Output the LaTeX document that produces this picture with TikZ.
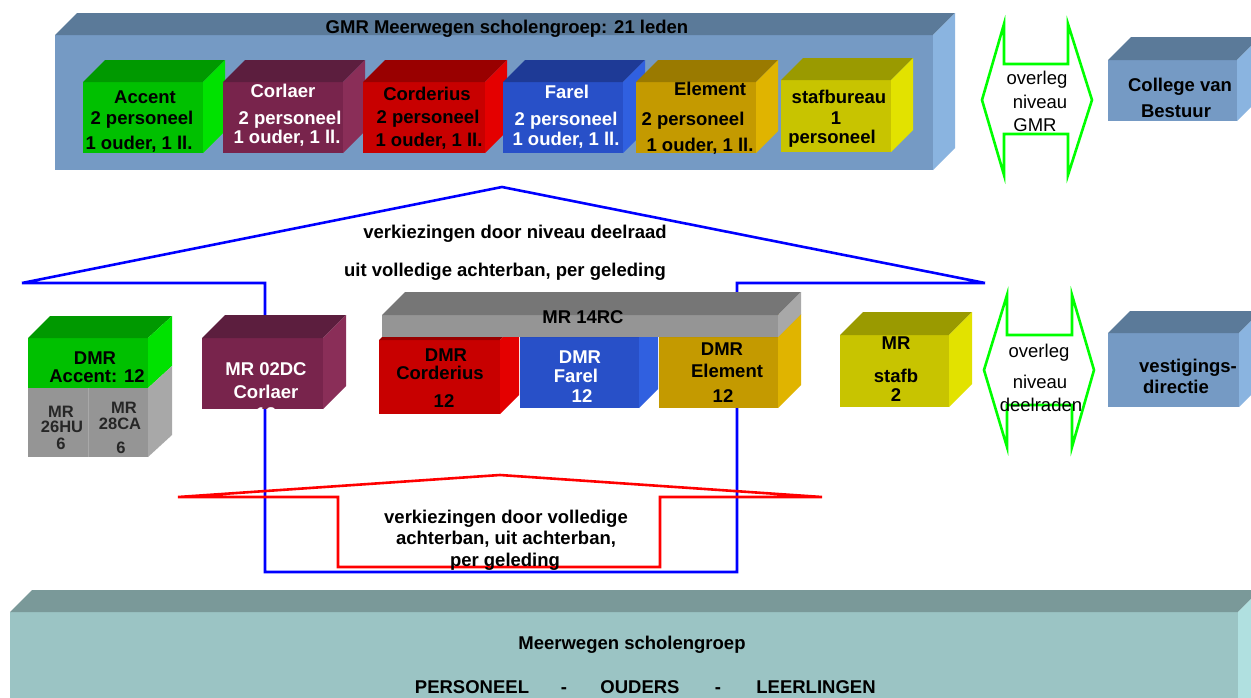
\documentclass[tikz,border=0pt]{standalone}
\usepackage{fontspec}
\setmainfont{Liberation Sans}
\definecolor{gmrF}{RGB}{117,154,196}
\definecolor{gmrT}{RGB}{91,122,153}
\definecolor{gmrS}{RGB}{138,180,224}
\definecolor{grnF}{RGB}{0,192,0}
\definecolor{grnT}{RGB}{0,153,0}
\definecolor{grnS}{RGB}{0,226,0}
\definecolor{marF}{RGB}{120,36,76}
\definecolor{marT}{RGB}{92,30,62}
\definecolor{marS}{RGB}{138,46,88}
\definecolor{redF}{RGB}{200,0,0}
\definecolor{redT}{RGB}{153,0,0}
\definecolor{redS}{RGB}{228,0,0}
\definecolor{bluF}{RGB}{40,80,200}
\definecolor{bluT}{RGB}{30,58,150}
\definecolor{bluS}{RGB}{48,96,224}
\definecolor{golF}{RGB}{196,154,0}
\definecolor{golT}{RGB}{154,122,0}
\definecolor{golS}{RGB}{224,180,0}
\definecolor{yelF}{RGB}{200,196,0}
\definecolor{yelT}{RGB}{154,154,0}
\definecolor{yelS}{RGB}{226,226,0}
\definecolor{gryF}{RGB}{149,149,149}
\definecolor{gryT}{RGB}{118,118,118}
\definecolor{gryS}{RGB}{168,168,168}
\definecolor{botF}{RGB}{155,196,196}
\definecolor{botT}{RGB}{122,153,153}
\definecolor{botS}{RGB}{176,224,224}
\definecolor{arBlue}{RGB}{0,0,255}
\definecolor{arRed}{RGB}{255,0,0}
\definecolor{arGreen}{RGB}{0,255,0}
\newcommand\cuboidbox[8]{%
 \fill[#6] (#1,#2) rectangle (#3,#4);
 \fill[#7] (#1,#2) -- (#1+#5,#2-#5) -- (#3+#5,#2-#5) -- (#3,#2) -- cycle;
 \fill[#8] (#3,#2) -- (#3+#5,#2-#5) -- (#3+#5,#4-#5) -- (#3,#4) -- cycle;}
\tikzset{
 bt/.style={font=\bfseries\fontsize{18.5}{20}\selectfont, inner sep=0pt, anchor=base},
 st/.style={font=\bfseries\fontsize{16.5}{18}\selectfont, inner sep=0pt, anchor=base, text=black!85},
 nt/.style={font=\fontsize{18.5}{20}\selectfont, inner sep=0pt, anchor=base},
 wt/.style={text=white},
 elect/.style={line width=2.6pt, line join=miter},
 talk/.style={draw=arGreen, line width=2.6pt, line join=miter}
}
\newcommand\lb[5]{\node[#4] (#1) at (#2,#3+6.6) {#5};}
\begin{document}
\begin{tikzpicture}[x=1pt,y=-1pt]
\clip (0,0) rectangle (1251,697);
\fill[white] (0,0) rectangle (1251,697);

% blue election arrow (behind boxes)
\draw[elect, draw=arBlue] (22,283) -- (502,187) -- (985,283) -- (737,283) -- (737,572) -- (265,572) -- (265,283) -- cycle;

% GMR big box
\cuboidbox{55}{35}{933}{170}{22}{gmrF}{gmrT}{gmrS}
\lb{gmrtitle}{507}{27}{bt}{GMR Meerwegen scholengroep: 21 leden}

% top inner boxes
\cuboidbox{83}{82}{203}{153}{22}{grnF}{grnT}{grnS}
\lb{accA}{145}{97}{bt}{Accent}
\lb{accB}{142}{118}{bt}{2 personeel}
\lb{accC}{139}{143}{bt}{1 ouder, 1 ll.}

\cuboidbox{223}{82}{343}{153}{22}{marF}{marT}{marS}
\lb{corA}{283}{91}{bt,wt}{Corlaer}
\lb{corB}{290}{118}{bt,wt}{2 personeel}
\lb{corC}{287}{137}{bt,wt}{1 ouder, 1 ll.}

\cuboidbox{363}{82}{485}{153}{22}{redF}{redT}{redS}
\lb{cdrA}{427}{94}{bt}{Corderius}
\lb{cdrB}{428}{117}{bt}{2 personeel}
\lb{cdrC}{429}{140}{bt}{1 ouder, 1 ll.}

\cuboidbox{503}{82}{623}{153}{22}{bluF}{bluT}{bluS}
\lb{farA}{567}{92}{bt,wt}{Farel}
\lb{farB}{566}{119}{bt,wt}{2 personeel}
\lb{farC}{566}{139}{bt,wt}{1 ouder, 1 ll.}

\cuboidbox{636}{82}{756}{153}{22}{golF}{golT}{golS}
\lb{eleA}{710}{89}{bt}{Element}
\lb{eleB}{693}{119}{bt}{2 personeel}
\lb{eleC}{700}{145}{bt}{1 ouder, 1 ll.}

\cuboidbox{781}{80}{891}{152}{22}{yelF}{yelT}{yelS}
\lb{stfA}{839}{97}{bt}{stafbureau}
\lb{stfB}{836}{118}{bt}{1}
\lb{stfC}{832}{137}{bt}{personeel}

% green talk arrow 1
\draw[talk] (982,100) -- (1004,24) -- (1004,64) -- (1068,64) -- (1068,24) -- (1092,100) -- (1068,175) -- (1068,134) -- (1004,134) -- (1004,175) -- cycle;
\lb{ovA}{1037}{78}{nt}{overleg}
\lb{ovB}{1040}{102}{nt}{niveau}
\lb{ovC}{1035}{125}{nt}{GMR}

% College van Bestuur
\cuboidbox{1108}{60}{1237}{121}{23}{gmrF}{gmrT}{gmrS}
\lb{cvbA}{1180}{85}{bt}{College van}
\lb{cvbB}{1176}{111}{bt}{Bestuur}

% election text upper
\lb{elA}{515}{232}{bt}{verkiezingen door niveau deelraad}
\lb{elB}{505}{270}{bt}{uit volledige achterban, per geleding}

% DMR Accent
\fill[grnF] (28,338) rectangle (148,388);
\fill[gryF] (28,388) rectangle (148,457);
\draw[line width=1pt, draw=gryS] (88,388) -- (88,457);
\fill[grnT] (28,338) -- (50,316) -- (172,316) -- (148,338) -- cycle;
\fill[grnS] (148,338) -- (172,316) -- (172,366) -- (148,388) -- cycle;
\fill[gryS] (148,388) -- (172,366) -- (172,435) -- (148,457) -- cycle;
\lb{daA}{95}{358}{bt}{DMR}
\lb{daB}{97}{376}{bt}{Accent: 12}
\lb{huA}{61}{411}{st}{MR}
\lb{huB}{62}{426}{st}{26HU}
\lb{huC}{61}{443}{st}{6}
\lb{caA}{124}{407}{st}{MR}
\lb{caB}{120}{423}{st}{28CA}
\lb{caC}{121}{447}{st}{6}

% MR 02DC Corlaer
\cuboidbox{202}{338}{323}{409}{23}{marF}{marT}{marS}
\lb{dcA}{266}{369}{bt,wt}{MR 02DC}
\lb{dcB}{266}{392}{bt,wt}{Corlaer}
\begin{scope}
\clip (202,338) rectangle (323,409);
\lb{dcC}{266}{414}{bt,wt}{12}
\end{scope}

% DMR Corderius, Farel, Element and MR 14RC
\cuboidbox{379}{340}{500}{414}{19}{redF}{redT}{redS}
\cuboidbox{520}{337}{639}{408}{19}{bluF}{bluT}{bluS}
\cuboidbox{659}{337}{778}{408}{23}{golF}{golT}{golS}
\cuboidbox{382}{315}{778}{337}{23}{gryF}{gryT}{gryS}
\lb{rcA}{583}{317}{bt}{MR 14RC}
\lb{dcoA}{446}{355}{bt}{DMR}
\lb{dcoB}{440}{373}{bt}{Corderius}
\lb{dcoC}{444}{401}{bt}{12}
\lb{dfaA}{580}{357}{bt,wt}{DMR}
\lb{dfaB}{576}{376}{bt,wt}{Farel}
\lb{dfaC}{582}{396}{bt,wt}{12}
\lb{delA}{722}{349}{bt}{DMR}
\lb{delB}{727}{371}{bt}{Element}
\lb{delC}{723}{396}{bt}{12}

% MR stafb
\cuboidbox{840}{335}{949}{407}{23}{yelF}{yelT}{yelS}
\lb{sbA}{896}{343}{bt}{MR}
\lb{sbB}{896}{376}{bt}{stafb}
\lb{sbC}{896}{395}{bt}{2}

% green talk arrow 2
\draw[talk] (984,370) -- (1007,295) -- (1007,335) -- (1072,335) -- (1072,295) -- (1094,370) -- (1072,447) -- (1072,405) -- (1007,405) -- (1007,447) -- cycle;
\lb{odA}{1039}{351}{nt}{overleg}
\lb{odB}{1040}{382}{nt}{niveau}
\lb{odC}{1041}{405}{nt}{deelraden}

% vestigingsdirectie
\cuboidbox{1108}{333}{1239}{407}{22}{gmrF}{gmrT}{gmrS}
\lb{vdA}{1188}{366}{bt}{vestigings-}
\lb{vdB}{1176}{387}{bt}{directie}

% red election arrow
\draw[elect, draw=arRed] (178,497) -- (500,475) -- (822,497) -- (660,497) -- (660,567) -- (338,567) -- (338,497) -- cycle;
\lb{erA}{506}{517}{bt}{verkiezingen door volledige}
\lb{erB}{506}{538}{bt}{achterban, uit achterban,}
\lb{erC}{505}{560}{bt}{per geleding}

% bottom base
\cuboidbox{10}{612}{1238}{720}{22}{botF}{botT}{botS}
\lb{bsA}{632}{643}{bt}{Meerwegen scholengroep}
\lb{bsB}{472}{687}{bt}{PERSONEEL}
\lb{bsC}{564}{687}{bt}{-}
\lb{bsD}{640}{687}{bt}{OUDERS}
\lb{bsE}{718}{687}{bt}{-}
\lb{bsF}{816}{687}{bt}{LEERLINGEN}
\end{tikzpicture}
\end{document}
